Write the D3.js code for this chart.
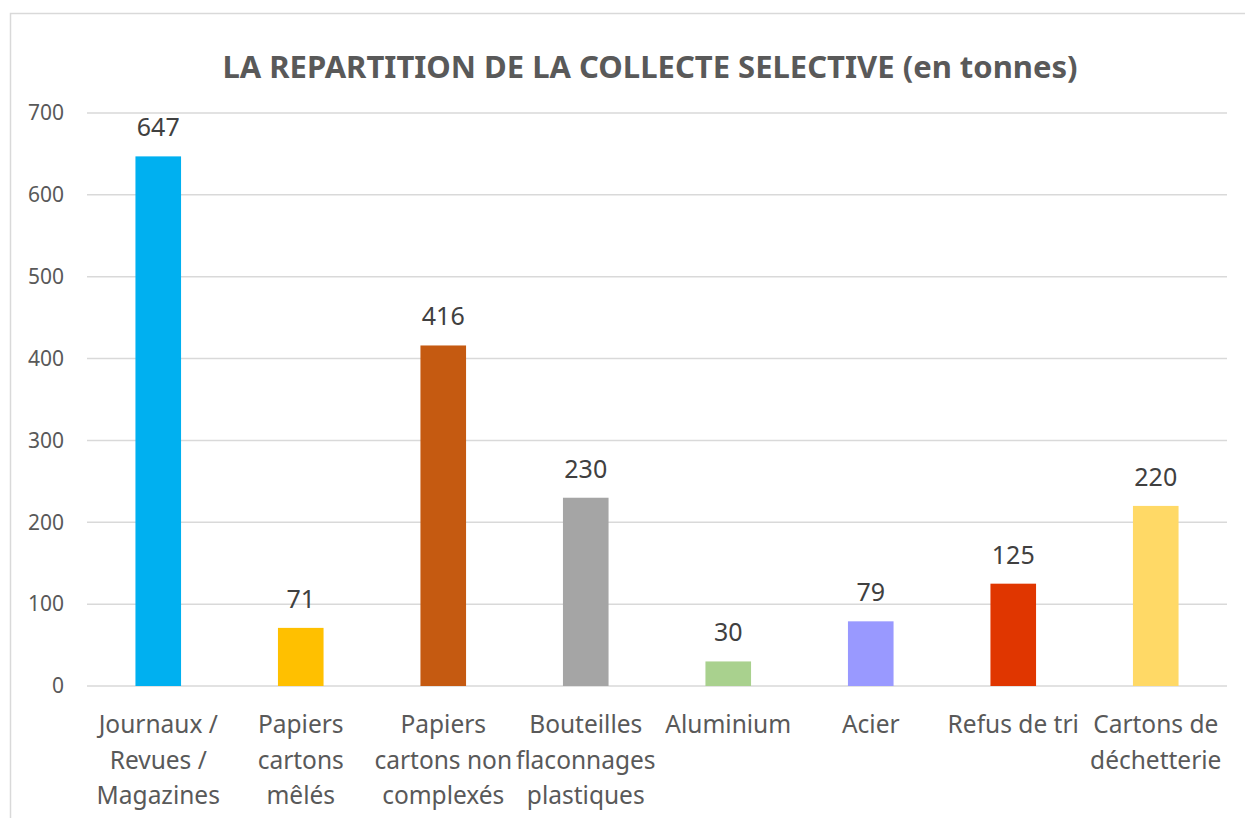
<!DOCTYPE html>
<html>
<head>
<meta charset="utf-8">
<script src="https://cdn.jsdelivr.net/npm/d3@7"></script>
<style>
  body { margin: 0; background: #fff; }
  text { font-family: "Noto Sans", sans-serif; }
</style>
</head>
<body>
<div id="chart"></div>
<script>
const categories = [
  ['Journaux /', 'Revues /', 'Magazines'],
  ['Papiers', 'cartons', 'mêlés'],
  ['Papiers', 'cartons non', 'complexés'],
  ['Bouteilles', 'flaconnages', 'plastiques'],
  ['Aluminium'],
  ['Acier'],
  ['Refus de tri'],
  ['Cartons de', 'déchetterie'],
];
const values = [647, 71, 416, 230, 30, 79, 125, 220];
const colors = ['#00B0F0', '#FFC000', '#C55A11', '#A5A5A5', '#A9D18E', '#9999FF', '#E03600', '#FFD966'];
const yTicks = [0, 100, 200, 300, 400, 500, 600, 700];
const title = 'LA REPARTITION DE LA COLLECTE SELECTIVE (en tonnes)';

const width = 1245;
const height = 818;
const margin = { top: 113, right: 18, bottom: 132, left: 87 };

const svg = d3.select('#chart')
  .append('svg')
  .attr('width', width)
  .attr('height', height);

// chart frame
svg.append('rect')
  .attr('x', 10.5)
  .attr('y', 13.5)
  .attr('width', 1260)
  .attr('height', 830)
  .attr('fill', 'none')
  .attr('stroke', '#D9D9D9')
  .attr('stroke-width', 1.5);

svg.append('text')
  .attr('x', 650)
  .attr('y', 78)
  .attr('text-anchor', 'middle')
  .attr('font-size', 31)
  .attr('font-weight', 'bold')
  .attr('fill', '#595959')
  .text(title);

const x = d3.scaleBand()
  .domain(d3.range(values.length))
  .range([margin.left, width - margin.right])
  .paddingInner(0.68)
  .paddingOuter(0.34);

const y = d3.scaleLinear()
  .domain([0, 700])
  .range([height - margin.bottom, margin.top]);

// gridlines
svg.append('g')
  .selectAll('line')
  .data(yTicks)
  .enter()
  .append('line')
  .attr('x1', margin.left)
  .attr('x2', width - margin.right)
  .attr('y1', (d) => y(d))
  .attr('y2', (d) => y(d))
  .attr('stroke', '#D9D9D9')
  .attr('stroke-width', 1.5);

// y axis labels
const yAxis = svg.append('g')
  .attr('transform', 'translate(64,0)')
  .call(d3.axisLeft(y).tickValues(yTicks).tickSize(0).tickPadding(0));
yAxis.select('.domain').remove();
yAxis.selectAll('text')
  .attr('font-size', 21)
  .attr('fill', '#595959')
  .style('font-family', '"Noto Sans", sans-serif');

// bars
svg.append('g')
  .selectAll('rect')
  .data(values)
  .enter()
  .append('rect')
  .attr('x', (d, i) => x(i))
  .attr('y', (d) => y(d))
  .attr('width', x.bandwidth())
  .attr('height', (d) => y(0) - y(d))
  .attr('fill', (d, i) => colors[i]);

// value labels
svg.append('g')
  .selectAll('text')
  .data(values)
  .enter()
  .append('text')
  .attr('x', (d, i) => x(i) + x.bandwidth() / 2)
  .attr('y', (d) => y(d) - 20)
  .attr('text-anchor', 'middle')
  .attr('font-size', 25)
  .attr('fill', '#404040')
  .text((d) => d);

// category labels
const cat = svg.append('g')
  .selectAll('text')
  .data(categories)
  .enter()
  .append('text')
  .attr('text-anchor', 'middle')
  .attr('font-size', 24.5)
  .attr('fill', '#595959');

cat.each(function eachCat(lines, i) {
  const cx = x(i) + x.bandwidth() / 2;
  d3.select(this)
    .selectAll('tspan')
    .data(lines)
    .enter()
    .append('tspan')
    .attr('x', cx)
    .attr('y', (d, j) => 733 + j * 35.5)
    .text((d) => d);
});
</script>
</body>
</html>
